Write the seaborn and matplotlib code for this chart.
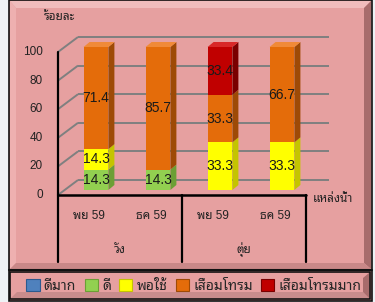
import numpy as np
import pandas as pd
import seaborn as sns
import matplotlib
matplotlib.use("Agg")
import matplotlib.pyplot as plt
from matplotlib.patches import Polygon, Rectangle, Patch
from matplotlib.lines import Line2D
from matplotlib.transforms import ScaledTranslation

# ---------------- data ----------------
months = ['พย 59', 'ธค 59', 'พย 59', 'ธค 59']
sites = ['วัง', 'ตุ่ย']
levels = ['ดีมาก', 'ดี', 'พอใช้', 'เสื่อมโทรม', 'เสื่อมโทรมมาก']
v_excellent = [0, 0, 0, 0]
v_good = [14.3, 14.3, 0, 0]
v_fair = [14.3, 0, 33.3, 33.3]
v_poor = [71.4, 85.7, 33.3, 66.7]
v_verypoor = [0, 0, 33.4, 0]
yticks = [0, 20, 40, 60, 80, 100]
ylabel = 'ร้อยละ'
xlabel = 'แหล่งน้ำ'

series = [v_excellent, v_good, v_fair, v_poor, v_verypoor]
front = ['#4f81bd', '#92d050', '#ffff00', '#e46c0a', '#c00000']
side = ['#2c5a8f', '#6c9f35', '#c4c400', '#9e4a06', '#7a0000']
topc = ['#6f9bd1', '#a8dc70', '#ffff60', '#f08a38', '#d82828']

sns.set_style('white')
plt.rcParams['font.family'] = ['Liberation Sans', 'Noto Sans Thai Looped', 'DejaVu Sans']
TXT = '#222222'

W, H = 375, 302
fig = plt.figure(figsize=(W / 100, H / 100), dpi=100, facecolor='#eef2f5')


def fx(x):
    return x / W


def fy(y):
    return 1 - y / H


def fpoly(pts, **kw):
    fig.patches.append(Polygon([(fx(a), fy(b)) for a, b in pts], closed=True,
                               transform=fig.transFigure, figure=fig, zorder=-5, **kw))


PINK = '#e6a0a0'
# outer panel with bevel
fpoly([(9, 0), (372, 0), (372, 301), (9, 301)], facecolor=PINK, edgecolor='#111111', lw=1.2)
fpoly([(10, 1), (371, 1), (364, 8), (16, 8)], facecolor='#f0bcbc', edgecolor='none')
fpoly([(10, 1), (16, 8), (16, 263), (10, 269)], facecolor='#eeb0b0', edgecolor='none')
fpoly([(371, 1), (371, 269), (364, 263), (364, 8)], facecolor='#a86c6c', edgecolor='none')
fpoly([(10, 269), (16, 263), (364, 263), (371, 269)], facecolor='#c98888', edgecolor='none')
fig.add_artist(Line2D([fx(9), fx(372)], [fy(270), fy(270)], color='#111111', lw=1.5, zorder=-4))
# legend box
fpoly([(10, 272), (370, 272), (370, 299), (10, 299)], facecolor=PINK, edgecolor='#111111', lw=1.2)
fpoly([(11, 298), (17, 292), (363, 292), (369, 298)], facecolor='#c98c8c', edgecolor='none')
fpoly([(369, 273), (369, 298), (363, 292), (363, 278)], facecolor='#a86c6c', edgecolor='none')

# ---------------- axes ----------------
ax = fig.add_axes([fx(58), fy(195), (306 - 58) / W, (195 - 52) / H])
ax.set_zorder(2)
ax.patch.set_alpha(0)
ux = 4 / 248.0     # data units per pixel (x)
uy = 100 / 143.0   # data units per pixel (y)
pos = np.arange(len(months))

# back wall gridlines
for t in yticks:
    ax.plot([-0.5, -0.5 + 20 * ux], [t, t + 15 * uy], color='#7f8080', lw=1.4,
            clip_on=False, zorder=1, solid_capstyle='butt')
    ax.plot([-0.5 + 20 * ux, -0.5 + 271 * ux], [t + 15 * uy] * 2, color='#7f8080',
            lw=1.4, clip_on=False, zorder=1, solid_capstyle='butt')

off = ScaledTranslation(7 / 100, 5 / 100, fig.dpi_scale_trans)
bw = 0.4
bottom = np.zeros(len(months))
segs = []
for name, vals, fc in zip(levels, series, front):
    n0 = len(ax.patches)
    sns.barplot(x=pos, y=vals, bottom=bottom.copy(), width=bw, color=fc,
                saturation=1, errorbar=None, edgecolor='none', linewidth=0,
                ax=ax, zorder=3)
    for p in ax.patches[n0:]:
        p.set_transform(ax.transData + off)
        p.set_clip_on(False)
    for i, v in enumerate(vals):
        if v > 0:
            segs.append((i, bottom[i], v, levels.index(name)))
    bottom = bottom + np.array(vals, dtype=float)

dxs, dys = 6 * ux, 5 * uy
tops = {}
for i, b, v, k in segs:
    x1 = i + bw / 2
    ax.add_patch(Polygon([(x1, b), (x1 + dxs, b + dys), (x1 + dxs, b + v + dys), (x1, b + v)],
                         closed=True, facecolor=side[k], edgecolor='none',
                         transform=ax.transData + off, zorder=3, clip_on=False))
    if i not in tops or b + v > tops[i][0]:
        tops[i] = (b + v, k)
for i, (t, k) in tops.items():
    x0, x1 = i - bw / 2, i + bw / 2
    ax.add_patch(Polygon([(x0, t), (x0 + dxs, t + dys), (x1 + dxs, t + dys), (x1, t)],
                         closed=True, facecolor=topc[k], edgecolor='none',
                         transform=ax.transData + off, zorder=3, clip_on=False))
for i, b, v, k in segs:
    ax.text(i, b + v / 2, f'{v:.1f}', transform=ax.transData + off, ha='center',
            va='center', fontsize=10, color='#1a1a1a', zorder=5)

ax.set_xlim(-0.5, 3.5)
ax.set_ylim(0, 100)
ax.axis('off')

# axes lines and table
ax.plot([-0.5, -0.5], [0, 100], color='black', lw=1.6, clip_on=False, zorder=4)
ax.plot([-0.5, 3.5], [0, 0], color='black', lw=1.8, clip_on=False, zorder=4)
for xv in [-0.5, 1.5, 3.5]:
    ax.plot([xv, xv], [0, -67 * uy], color='black', lw=1.6, clip_on=False, zorder=4)

for t in yticks:
    ax.text(-0.5 - 15 * ux, t, str(t), ha='right', va='center', fontsize=8.5, color=TXT)
for i, m in enumerate(months):
    ax.text(i, -21 * uy, m, ha='center', va='center', fontsize=8.5, color=TXT)
for j, s in enumerate(sites):
    ax.text(2 * j + 0.5, -55 * uy, s, ha='center', va='center', fontsize=8.5, color=TXT)
ax.text(-0.5 + 255 * ux, -4 * uy, xlabel, ha='left', va='center', fontsize=8.5, color=TXT)
fig.text(fx(44), fy(17), ylabel, ha='left', va='center', fontsize=8.5, color=TXT)

handles = [Patch(facecolor=f, edgecolor=s, lw=0.8) for f, s in zip(front, side)]
fig.legend(handles, levels, ncol=5, loc='center', bbox_to_anchor=(fx(194), fy(286)),
           frameon=False, fontsize=10, handlelength=0.95, handleheight=0.95,
           handletextpad=0.3, columnspacing=0.6, borderpad=0)

fig.savefig('out.png', dpi=100, facecolor=fig.get_facecolor())
